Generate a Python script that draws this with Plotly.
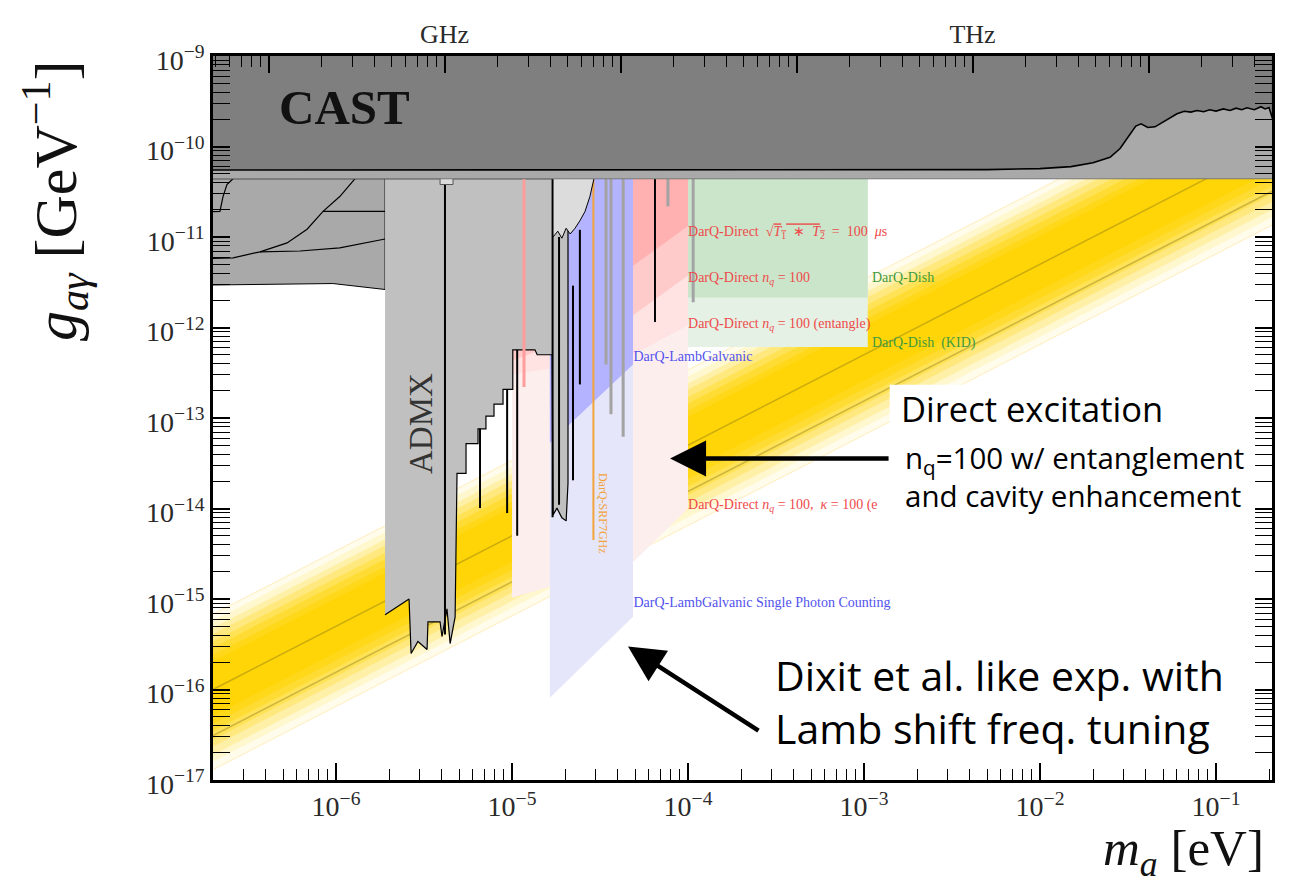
import numpy as np
import plotly.graph_objects as go

SERIF = "Liberation Serif"
SANS = "Open Sans"

M_MIN, M_MAX = 2.0e-7, 0.208      # axion mass range [eV]
G_MIN, G_MAX = 1e-17, 1e-9        # coupling range [GeV^-1]
EV_PER_HZ = 4.1357e-15
G_TOP = 4.4e-11                   # lower edge of the HB / CAST strip
G_CEIL = 3e-9

# ---- QCD axion band (values at M_MIN and M_MAX, outer -> inner) ----
band_hi_left = [6.8e-16, 5.75e-16, 4.8e-16, 4.1e-16, 3.4e-16, 2.9e-16, 2.4e-16, 2.05e-16]
band_hi_right = [7.1e-10, 6.0e-10, 5.0e-10, 4.3e-10, 3.55e-10, 3.0e-10, 2.5e-10, 2.15e-10]
band_lo_left = [1.3e-17, 1.6e-17, 1.9e-17, 2.35e-17, 2.8e-17, 3.5e-17, 4.2e-17, 5.1e-17]
band_lo_right = [1.35e-11, 1.65e-11, 2.0e-11, 2.45e-11, 2.95e-11, 3.65e-11, 4.4e-11, 5.4e-11]
ksvz_g = [1.0e-16, 1.04e-10]
dfsz_g = [3.1e-17, 3.2e-11]

# ---- CAST ----
cast_m = [1e-7, 1e-3, 5e-3, 1.0e-2, 1.5e-2, 2.0e-2, 2.5e-2, 2.85e-2, 3.2e-2, 3.5e-2, 3.75e-2,
          4.1e-2, 4.5e-2, 5.2e-2, 6.0e-2, 6.6e-2, 7.2e-2, 7.8e-2, 8.5e-2, 9.2e-2, 0.10, 0.11,
          0.12, 0.13, 0.14, 0.15, 0.165, 0.18, 0.19, 0.20, 0.205, 0.21]
cast_g = [5.5e-11, 5.5e-11, 5.55e-11, 5.7e-11, 6.0e-11, 6.6e-11, 7.6e-11, 9.5e-11, 1.3e-10,
          1.68e-10, 1.78e-10, 1.62e-10, 1.65e-10, 1.95e-10, 2.3e-10, 2.45e-10, 2.4e-10, 2.5e-10,
          2.42e-10, 2.55e-10, 2.46e-10, 2.6e-10, 2.5e-10, 2.65e-10, 2.55e-10, 2.68e-10, 2.55e-10,
          2.75e-10, 2.6e-10, 2.7e-10, 2.35e-10, 2.0e-10]

# ---- low-mass limits (left block) ----
left_m = [1.0e-7, 1.9e-6, 1.9e-6, 9.6e-7, 1.0e-7]
left_g = [G_TOP, G_TOP, 2.63e-12, 3.06e-12, 2.9e-12]
left_curves = [
    ([1.0e-7, 2.6e-7, 3.7e-7, 5.27e-7, 6.85e-7, 8.44e-7, 1.05e-6, 1.28e-6],
     [5.6e-12, 5.89e-12, 6.86e-12, 8.6e-12, 1.22e-11, 1.92e-11, 2.8e-11, 4.4e-11]),
    ([3.7e-7, 6.24e-7, 1.05e-6, 1.9e-6], [6.86e-12, 7.0e-12, 7.6e-12, 9.5e-12]),
    ([8.44e-7, 1.9e-6], [1.92e-11, 1.92e-11]),
    ([1.0e-7, 2.19e-7, 2.28e-7, 2.4e-7, 2.6e-7], [1.83e-11, 1.92e-11, 2.8e-11, 3.8e-11, 4.4e-11]),
]

# ---- haloscopes (ADMX and friends) ----
halo_m = [1.9e-6, 2.08e-5, 2.08e-5, 2.03e-5, 1.92e-5, 1.80e-5, 1.71e-5, 1.69e-5, 1.39e-5, 1.35e-5,
          1.01e-5, 1.01e-5, 8.89e-6, 8.89e-6, 7.9e-6, 7.9e-6, 7.11e-6, 7.11e-6, 6.41e-6, 6.41e-6,
          5.48e-6, 5.48e-6, 4.87e-6, 4.75e-6, 4.45e-6, 4.27e-6, 4.0e-6, 3.9e-6, 3.33e-6, 3.29e-6,
          2.92e-6, 2.67e-6, 2.6e-6, 2.31e-6, 1.9e-6]
halo_g = [G_TOP, G_TOP, 1.9e-14, 7.3e-15, 7.9e-15, 1.01e-14, 8.5e-15, 5.0e-13, 5.0e-13, 5.67e-13,
          5.67e-13, 2.07e-13, 2.07e-13, 1.42e-13, 1.42e-13, 1.05e-13, 1.05e-13, 7.6e-14, 7.6e-14,
          5.2e-14, 5.2e-14, 2.44e-14, 2.44e-14, 6.35e-16, 3.22e-16, 7.78e-16, 3.85e-16, 5.6e-16,
          5.6e-16, 2.77e-16, 3.39e-16, 2.5e-16, 1.0e-15, 8.6e-16, 6.68e-16]
hang_m = [1.71e-5, 1.71e-5, 1.82e-5, 1.92e-5, 2.03e-5, 2.14e-5, 2.28e-5, 2.43e-5, 2.6e-5, 2.77e-5,
          2.92e-5, 2.92e-5]
hang_g = [5.5e-11, 1.0e-11, 1.16e-11, 9.7e-12, 1.25e-11, 1.08e-11, 1.25e-11, 1.51e-11, 1.92e-11,
          2.8e-11, 4.4e-11, 5.5e-11]
box_m = [3.9e-6, 3.9e-6, 4.62e-6, 4.62e-6]
box_g = [5.5e-11, 3.8e-11, 3.8e-11, 5.5e-11]
black_spike_m = [4.16e-6, 6.58e-6, 9.38e-6, 1.07e-5, 1.7e-5, 1.85e-5, 2.22e-5, 2.43e-5, 6.49e-5]
black_spike_top = [G_TOP, 7.6e-14, 2.07e-13, 5.67e-13, G_TOP, 1.0e-11, 2.9e-12, 1.2e-11, G_TOP]
black_spike_g = [4.05e-16, 1.01e-14, 8.9e-15, 5.0e-15, 8.0e-15, 1.1e-14, 2.05e-14, 2.35e-13, 1.15e-12]
gray_spike_m = [3.42e-5, 3.65e-5, 4.28e-5, 7.69e-5, 1.07e-4]
gray_spike_g = [3.9e-13, 1.1e-13, 6.2e-14, 2.18e-11, 1.9e-12]
red_gap_m = [1.17e-5, 1.17e-5]
red_gap_g = [G_TOP, 2.2e-13]

# ---- DarQ projections ----
direct_m = [1e-5, 4.87e-5, 1e-4]
direct_kappa_g = [1.03e-15, 2.54e-15, 1.0e-14]
direct_ent_g = [3.0e-13, 5.0e-13, 1.06e-12]
direct_nq_g = [4.3e-13, 1.37e-12, 3.75e-12]
direct_t2_g = [9.0e-13, 4.8e-12, 1.32e-11]
lamb_m = [1.64e-5, 4.87e-5]
lamb_spc_g = [8.1e-17, 6.35e-16]
lamb_g = [5.3e-14, 3.9e-13]
dish_m = [1e-4, 1.05e-3]
dish_kid_g = [6.1e-13, 6.1e-13]
dish_g = [2.15e-12, 2.15e-12]
srf_m = [2.9e-5, 2.9e-5]
srf_g = [4.5e-15, G_TOP]

SP = "\u2002"
label_text = [
    f"DarQ-Direct{SP}√<span style='text-decoration:overline'><i>T</i><sub>1</sub>{SP}∗{SP}<i>T</i><sub>2</sub></span>{SP}={SP}100{SP}<i>μ</i>s",
    "DarQ-Direct <i>n<sub>q</sub></i> = 100",
    "DarQ-Direct <i>n<sub>q</sub></i> = 100 (entangle)",
    f"DarQ-Direct <i>n<sub>q</sub></i> = 100,{SP}<i>κ</i> = 100 (e",
    "DarQ-LambGalvanic",
    "DarQ-LambGalvanic Single Photon Counting",
    "DarQ-Dish",
    f"DarQ-Dish{SP}(KID)",
]
label_m = [1.0e-4, 1.0e-4, 1.0e-4, 1.0e-4, 4.9e-5, 4.9e-5, 1.11e-3, 1.11e-3]
label_g = [1.11e-11, 3.47e-12, 1.09e-12, 1.09e-14, 4.65e-13, 9.0e-16, 3.47e-12, 6.6e-13]

RED, BLUE, GREEN = "#ee4a4a", "#5252ee", "#3f9a3f"
label_color = [RED, RED, RED, RED, BLUE, BLUE, GREEN, GREEN]

fig = go.Figure()


def poly(m, g, fill, line="rgba(0,0,0,0)", width=0):
    fig.add_trace(go.Scatter(x=list(m), y=list(g), mode="lines", fill="toself", fillcolor=fill,
                             line=dict(color=line, width=width), hoverinfo="skip"))


def region(m, g_bottom, fill):
    poly(list(m) + list(m)[::-1], list(g_bottom) + [G_TOP] * len(m), fill)


def lines(m, g, color, width):
    fig.add_trace(go.Scatter(x=m, y=g, mode="lines", hoverinfo="skip",
                             line=dict(color=color, width=width)))


def spikes(m, top, bottom, color, width):
    xs, ys = [], []
    for mi, ti, bi in zip(m, top, bottom):
        xs += [mi, mi, None]
        ys += [ti, bi, None]
    lines(xs, ys, color, width)


# QCD band
band_alpha = [0.08, 0.12, 0.18, 0.25, 0.32, 0.4, 0.5, 0.65]
for lo_l, lo_r, hi_r, hi_l, a in zip(band_lo_left, band_lo_right, band_hi_right, band_hi_left, band_alpha):
    poly([M_MIN, M_MAX, M_MAX, M_MIN], [lo_l, lo_r, hi_r, hi_l], f"rgba(255,212,0,{a})")
lines([M_MIN, M_MAX], [band_lo_left[0], band_lo_right[0]], "rgba(255,205,80,0.35)", 1)
lines([M_MIN, M_MAX], [band_hi_left[0], band_hi_right[0]], "rgba(255,205,80,0.35)", 1)
lines([M_MIN, M_MAX], ksvz_g, "rgba(110,100,20,0.35)", 1.6)
lines([M_MIN, M_MAX], dfsz_g, "rgba(110,100,20,0.35)", 1.6)

# DarQ regions
region(dish_m, dish_kid_g, "#e5f1e5")
region(dish_m, dish_g, "#cbe5cb")
region(direct_m, direct_kappa_g, "#fdeeee")
region(direct_m, direct_ent_g, "#ffe2e2")
region(direct_m, direct_nq_g, "#ffcaca")
region(direct_m, direct_t2_g, "#ffb1b1")
region(lamb_m, lamb_spc_g, "#e6e6fb")
region(lamb_m, lamb_g, "#b3b3ff")
lines(srf_m, srf_g, "#f2a43a", 2)

# existing limits
poly(left_m, left_g, "#a9a9a9", "black", 1)
for cm, cg in left_curves:
    lines(cm, cg, "black", 1.2)
poly(halo_m, halo_g, "#c0c0c0", "black", 1.2)
lines(red_gap_m, red_gap_g, "#ff9c9c", 3)
spikes(gray_spike_m, [G_TOP] * len(gray_spike_m), gray_spike_g, "#a3a3a3", 3)
spikes(black_spike_m, black_spike_top, black_spike_g, "black", 2)
poly(hang_m, hang_g, "#dcdcdc", "black", 1)
poly(box_m, box_g, "#dcdcdc", "#555", 1)
poly([1e-7, 0.3, 0.3, 1e-7], [G_TOP, G_TOP, G_CEIL, G_CEIL], "#a9a9a9", "#777", 1)
poly(cast_m + [0.21, 1e-7], cast_g + [G_CEIL, G_CEIL], "#7f7f7f", "black", 1.6)

# labels of the projections
for t, m, g, c in zip(label_text, label_m, label_g, label_color):
    fig.add_trace(go.Scatter(x=[m], y=[g], mode="text", text=[t], textposition="middle right",
                             textfont=dict(family=SERIF, size=14, color=c), hoverinfo="skip"))

# dummy trace for the frequency axis
fig.add_trace(go.Scatter(x=[1e10], y=[1e-12], xaxis="x2", mode="markers",
                         marker=dict(opacity=0), hoverinfo="skip"))

mass_ticks = [1e-6, 1e-5, 1e-4, 1e-3, 1e-2, 1e-1]
mass_text = ["10<sup>−6</sup>", "10<sup>−5</sup>", "10<sup>−4</sup>", "10<sup>−3</sup>",
             "10<sup>−2</sup>", "10<sup>−1</sup>"]
freq_ticks = [1e8, 1e9, 1e10, 1e11, 1e12, 1e13]
freq_text = ["", "GHz", "", "", "THz", ""]
g_ticks = [10.0 ** e for e in range(-17, -8)]
g_text = [f"10<sup>−{-e}</sup>" for e in range(-17, -8)]

minor_m = [k * 10.0 ** e for e in range(-7, 0) for k in range(2, 10)]
minor_f = [k * 10.0 ** e for e in range(7, 14) for k in range(2, 10)]
minor_g = [k * 10.0 ** e for e in range(-17, -9) for k in range(2, 10)]

base_axis = dict(type="log", ticks="inside", ticklen=17, tickwidth=2.2, tickcolor="black",
                 showgrid=False, zeroline=False, showline=True, linecolor="black", linewidth=2.5,
                 tickmode="array", tickfont=dict(family=SERIF, size=28, color="#2a2a2a"))


def minor(vals):
    return dict(ticks="inside", ticklen=11, tickwidth=1.2, tickcolor="black",
                tickmode="array", tickvals=vals, showgrid=False)


# the page body adds an 8 px margin, so the figure is 8 px smaller
fig.update_layout(
    width=1286, height=881,
    margin=dict(l=205, r=22, t=39, b=109),
    plot_bgcolor="white", paper_bgcolor="white", showlegend=False,
    xaxis=dict(base_axis, range=[np.log10(M_MIN), np.log10(M_MAX)], tickvals=mass_ticks,
               ticktext=mass_text, mirror=True, minor=minor(minor_m)),
    xaxis2=dict(base_axis, overlaying="x", side="top", anchor="y",
                range=[np.log10(M_MIN / EV_PER_HZ), np.log10(M_MAX / EV_PER_HZ)],
                tickvals=freq_ticks, ticktext=freq_text, minor=minor(minor_f),
                tickfont=dict(family=SERIF, size=26, color="#2a2a2a")),
    yaxis=dict(base_axis, range=[np.log10(G_MIN), np.log10(G_MAX)], tickvals=g_ticks,
               ticktext=g_text, mirror="allticks", minor=minor(minor_g), ticklabelshift=4),
)

# white box behind the "Direct excitation" note
fig.add_shape(type="rect", xref="paper", yref="paper", x0=0.639, x1=0.984, y0=0.362, y1=0.546,
              fillcolor="white", line=dict(width=0), layer="above")

notes = [
    ("<b>CAST</b>", -5.949, -9.568, 49, 0, "center", SERIF, "#111"),
    ("ADMX", -5.517, -13.066, 33, -90, "center", SERIF, "#333"),
    ("DarQ-SRF7GHz", -4.483, -14.049, 12, 90, "center", SERIF, "#f2a43a"),
    ("Direct excitation", -2.80, -12.90, 34.5, 0, "left", SANS, "black"),
    ("n<sub>q</sub>=100 w/ entanglement<br>and cavity enhancement", -2.78, -13.645, 29.5, 0,
     "left", SANS, "black"),
    ("Dixit et al. like exp. with<br>Lamb shift freq. tuning", -3.52, -16.13, 41, 0,
     "left", SANS, "black"),
]
for text, lx, ly, size, angle, anchor, fam, col in notes:
    fig.add_annotation(x=lx, y=ly, xref="x", yref="y", text=text, showarrow=False,
                       textangle=angle, xanchor=anchor, yanchor="middle", align="left",
                       font=dict(family=fam, size=size, color=col))

# arrows
for tx, ty, ax, ay in [(-4.102, -13.448, 220, 0), (-4.341, -15.525, 132, 85)]:
    fig.add_annotation(x=tx, y=ty, xref="x", yref="y", ax=ax, ay=ay, axref="pixel", ayref="pixel",
                       text="", showarrow=True, arrowhead=2, arrowsize=1.6, arrowwidth=4.5,
                       arrowcolor="black")

# axis titles
fig.add_annotation(xref="paper", yref="paper", x=-0.149, y=0.80, showarrow=False, textangle=-90,
                   xanchor="center", yanchor="middle",
                   text="<i>g</i><sub><i>aγ</i></sub> [GeV<sup>−1</sup>]",
                   font=dict(family=SERIF, size=60, color="#111"))
fig.add_annotation(xref="paper", yref="paper", x=0.994, y=-0.147, showarrow=False,
                   xanchor="right", yanchor="bottom",
                   text="<i>m</i><sub><i>a</i></sub> [eV]",
                   font=dict(family=SERIF, size=51, color="#111"))

fig.write_html("out.html")
